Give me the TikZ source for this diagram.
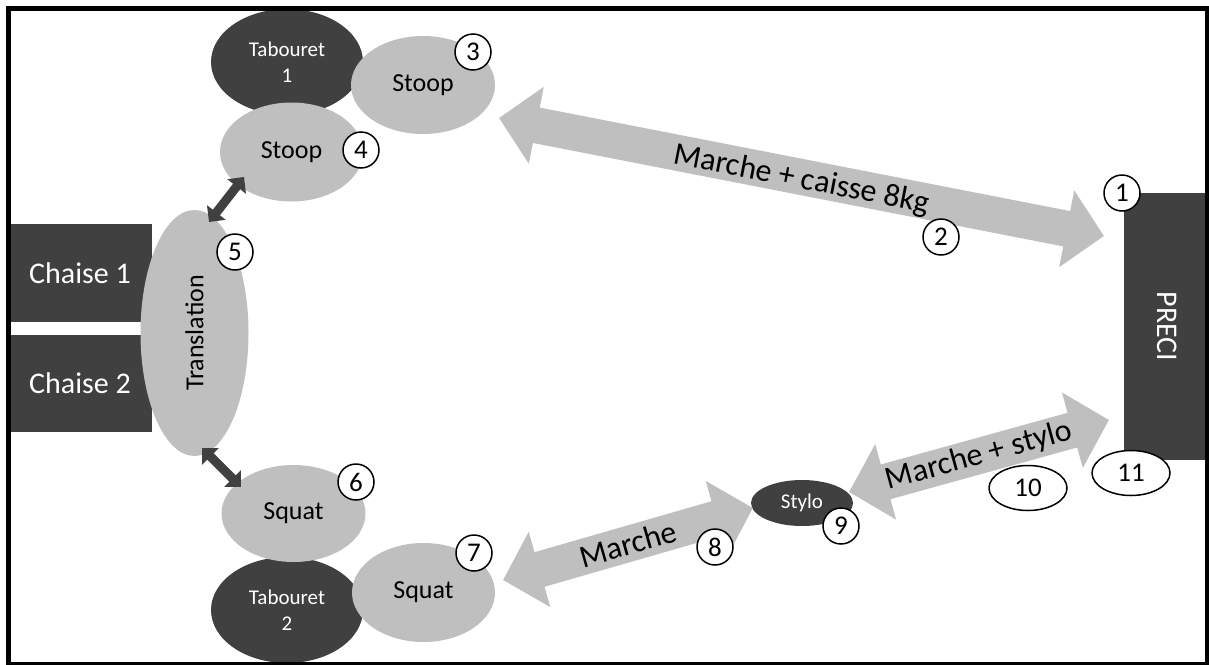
\documentclass[tikz,border=0pt]{standalone}
\usepackage{fontspec}
\setmainfont{Carlito}
\usetikzlibrary{shapes.geometric,arrows.meta,calc}
\definecolor{darkg}{HTML}{404040}
\definecolor{lightg}{HTML}{BFBFBF}
\tikzset{
 lightell/.style={ellipse, fill=lightg, inner sep=0pt, text=black, font=\fontsize{26}{31}\selectfont},
 darkell/.style={ellipse, fill=darkg, inner sep=0pt, text=white, align=center, font=\fontsize{21}{26}\selectfont},
 darkbox/.style={rectangle, fill=darkg, inner sep=0pt, text=white, font=\fontsize{30}{36}\selectfont},
 num/.style={circle, draw=black, line width=1.5pt, fill=white, minimum size=36pt, inner sep=0pt, font=\fontsize{27}{32}\selectfont},
 numov/.style={ellipse, draw=black, line width=1.5pt, fill=white, minimum width=78pt, minimum height=45pt, inner sep=0pt, font=\fontsize{27}{32}\selectfont},
 bigarrow/.style={draw=lightg, line width=36pt, {Triangle[length=38pt,width=76pt]}-{Triangle[length=38pt,width=76pt]}},
 smallarrow/.style={draw=darkg, line width=9pt, {Triangle[length=12pt,width=23pt]}-{Triangle[length=12pt,width=23pt]}},
 arrowlabel/.style={font=\fontsize{32}{38}\selectfont, inner sep=0pt},
}
\begin{document}
\begin{tikzpicture}[x=1pt,y=-1pt]
\fill[white] (0,0) rectangle (1209,664);
\useasboundingbox (0,0) rectangle (1209,664);
% dark furniture
\node[darkell, minimum width=152pt, minimum height=106pt] (tab1) at (287,62) {Tabouret\\1};
\node[darkell, minimum width=152pt, minimum height=106pt] (tab2) at (287,610) {Tabouret\\2};
\node[darkbox, minimum width=144pt, minimum height=98pt] (ch1) at (80,273) {Chaise 1};
\node[darkbox, minimum width=144pt, minimum height=97pt] (ch2) at (80,383.5) {Chaise 2};
\node[darkbox, minimum width=86pt, minimum height=267pt] (preci) at (1167,326.5) {\rotatebox{-90}{PRECI}};
% light ellipses
\node[lightell, minimum width=144pt, minimum height=98pt] (stoop3) at (423,85) {Stoop};
\node[lightell, minimum width=143pt, minimum height=99pt] (stoop4) at (291.5,152) {Stoop};
\node[lightell, minimum width=108pt, minimum height=246pt] (trans) at (194.5,333) {\rotatebox{90}{Translation}};
\node[lightell, minimum width=144pt, minimum height=97pt] (squat6) at (293.5,513.5) {Squat};
\node[lightell, minimum width=143pt, minimum height=99pt] (squat7) at (423.5,592.5) {Squat};
\node[darkell, minimum width=102pt, minimum height=46pt] (stylo) at (802,503) {Stylo};
% arrows
\coordinate (a1s) at (499,118); \coordinate (a1e) at (1104,236);
\coordinate (a2s) at (503,580); \coordinate (a2e) at (753,508);
\coordinate (a3s) at (849,492); \coordinate (a3e) at (1109,420);
\coordinate (a4s) at (209,222); \coordinate (a4e) at (244,177);
\coordinate (a5s) at (202,448); \coordinate (a5e) at (241,487);
\draw[bigarrow] (a1s) -- (a1e);
\draw[bigarrow] (a2s) -- (a2e);
\draw[bigarrow] (a3s) -- (a3e);
\draw[smallarrow] (a4s) -- (a4e);
\draw[smallarrow] (a5s) -- (a5e);
\node[arrowlabel, rotate=-11.03] (l1) at ($(a1s)!0.5!(a1e)+(0,3)$) {Marche + caisse 8kg};
\node[arrowlabel, rotate=16.07] (l2) at ($(a2s)!0.5!(a2e)$) {Marche};
\node[arrowlabel, rotate=15.48] (l3) at ($(a3s)!0.5!(a3e)$) {Marche + stylo};
% numbers
\node[num] (n1) at (1122,193) {1};
\node[num] (n2) at (941,237) {2};
\node[num] (n3) at (473,52) {3};
\node[num] (n4) at (361,150) {4};
\node[num] (n5) at (235,252) {5};
\node[num] (n6) at (356,482) {6};
\node[num] (n7) at (474,553) {7};
\node[num] (n8) at (715,547) {8};
\node[num] (n9) at (841,526) {9};
\node[numov] (n10) at (1028,488) {10};
\node[numov] (n11) at (1131,473) {11};
% frame
\draw[line width=5.5pt] (8.5,8.5) rectangle (1207.5,664.5);
\end{tikzpicture}
\end{document}
